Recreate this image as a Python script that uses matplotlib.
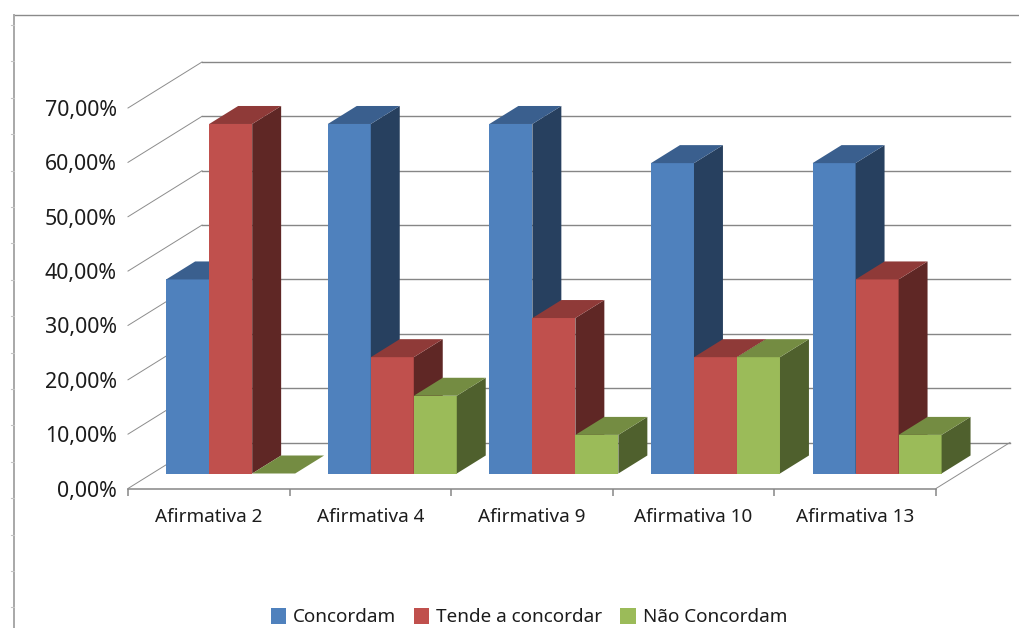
import matplotlib
matplotlib.use('Agg')
import matplotlib.pyplot as plt
from matplotlib.patches import Polygon, Patch
from matplotlib.lines import Line2D

categories = ['Afirmativa 2', 'Afirmativa 4', 'Afirmativa 9', 'Afirmativa 10', 'Afirmativa 13']
series_names = ['Concordam', 'Tende a concordar', 'Não Concordam']
concordam = [35.7, 64.3, 64.3, 57.1, 57.1]
tende = [64.3, 21.4, 28.6, 21.4, 35.7]
nao = [0.0, 14.3, 7.1, 21.4, 7.1]
y_ticks = [0, 10, 20, 30, 40, 50, 60, 70]
y_labels = ['0,00%', '10,00%', '20,00%', '30,00%', '40,00%', '50,00%', '60,00%', '70,00%']

series = [concordam, tende, nao]
front = ['#4F81BD', '#C0504D', '#9BBB59']
top = ['#3A5F8E', '#8F3A38', '#748C42']
side = ['#27405F', '#5F2725', '#4F602D']
GRID = '#868686'
W, H = 1020, 628
plt.rcParams['font.family'] = ['Noto Sans', 'DejaVu Sans']
TXT = '#1c1c1c'

fig = plt.figure(figsize=(W / 100, H / 100), dpi=100, facecolor='white')
L, R, B, T = 128, 936, 488.5, 108
ax = fig.add_axes([L / W, 1 - B / H, (R - L) / W, (B - T) / H])
ax.set_xlim(0, 5)
ax.set_ylim(0, 70)
ax.patch.set_visible(False)
for s in ['top', 'right', 'left']:
    ax.spines[s].set_visible(False)
ax.spines['bottom'].set_color(GRID)
ax.spines['bottom'].set_linewidth(1.1)

ux = 5 / (R - L)        # data units per pixel
uy = 70 / (B - T)
DX, DY = 74 * ux, 46 * uy  # full floor depth
f0 = 15 / 46            # bar front plane
f1 = 33 / 46            # bar back plane

# walls
for v in y_ticks:
    ax.plot([0, DX], [v, v + DY], color='#8c8c8c', lw=0.7, clip_on=False, zorder=1)
    ax.plot([DX, 5 + DX], [v + DY, v + DY], color=GRID, lw=1.0, clip_on=False, zorder=1)
ax.plot([5, 5 + DX], [0, DY], color='#8c8c8c', lw=0.7, clip_on=False, zorder=1)

# bars
bw = 43 * ux
pad = 0.087
z = 3
for c in range(len(categories)):
    for k, vals in enumerate(series):
        v = vals[c]
        x0 = c + pad + k * bw + f0 * DX
        x1 = x0 + bw
        y0 = 15 * uy
        ddx = (f1 - f0) * DX
        ddy = (f1 - f0) * DY
        yt = y0 + v
        ax.add_patch(Polygon([(x0, y0), (x1, y0), (x1, yt), (x0, yt)], fc=front[k], ec='none', clip_on=False, zorder=z))
        ax.add_patch(Polygon([(x1, y0), (x1 + ddx, y0 + ddy), (x1 + ddx, yt + ddy), (x1, yt)], fc=side[k], ec='none', clip_on=False, zorder=z))
        ax.add_patch(Polygon([(x0, yt), (x1, yt), (x1 + ddx, yt + ddy), (x0 + ddx, yt + ddy)], fc=top[k], ec='none', clip_on=False, zorder=z))
        z += 1

# ticks
ax.set_yticks(y_ticks)
ax.set_yticklabels(y_labels, fontsize=15.4, color=TXT)
ax.tick_params(axis='y', length=0, pad=8)
ax.set_xticks([0, 1, 2, 3, 4, 5])
ax.set_xticklabels([''] * 6)
ax.tick_params(axis='x', length=5, width=1.1, color=GRID)
ax.set_xticks([0.5, 1.5, 2.5, 3.5, 4.5], minor=True)
ax.set_xticklabels(categories, minor=True, fontsize=13.6, color=TXT)
ax.tick_params(axis='x', which='minor', length=0, pad=14)

# legend
handles = [Patch(fc=front[k], ec='none', label=series_names[k]) for k in range(3)]
fig.legend(handles=handles, loc='center', bbox_to_anchor=(529 / W, 1 - 617 / H), ncol=3, frameon=False,
           fontsize=13.6, handlelength=0.8, handleheight=0.95, handletextpad=0.37, columnspacing=0.95,
           labelcolor=TXT, borderpad=0)

# outer chart frame
fig.add_artist(Line2D([14 / W, 1], [1 - 14.5 / H] * 2, color='#8a8a8a', lw=1.0))
fig.add_artist(Line2D([14 / W, 14 / W], [1 - 14.5 / H, 0], color='#a8a8a8', lw=1.4))
ty = 25
while ty < H:
    fig.add_artist(Line2D([11.5 / W, 14 / W], [1 - ty / H] * 2, color='#c4c4c4', lw=0.8))
    ty += 36.4

fig.savefig('out.png', dpi=100, facecolor='white')
